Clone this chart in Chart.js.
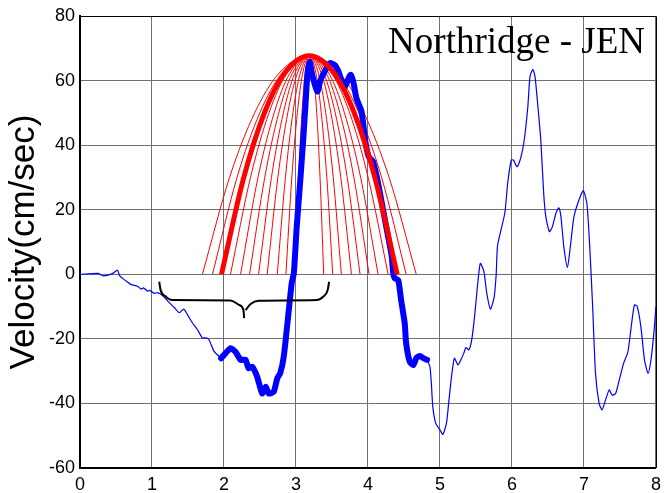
<!DOCTYPE html>
<html>
<head>
<meta charset="utf-8">
<script src="https://cdn.jsdelivr.net/npm/chart.js@4/dist/chart.umd.min.js"></script>
<style>
  html, body { margin: 0; padding: 0; background: #fff; }
  #wrap { width: 667px; height: 493px; }
</style>
</head>
<body>
<div id="wrap"><canvas id="chart"></canvas></div>
<script>
const plotTitle = "Northridge - JEN";
const yAxisTitle = "Velocity(cm/sec)";

const xTicks = [0, 1, 2, 3, 4, 5, 6, 7, 8];
const yTicks = [-60, -40, -20, 0, 20, 40, 60, 80];

// thin blue record before the pulse
const preTime = [0, 0.25, 0.32, 0.45, 0.52, 0.55, 0.64, 0.71, 0.8, 0.85, 0.88, 0.94, 0.97, 1.03, 1.08, 1.15, 1.24, 1.31, 1.38, 1.44, 1.49, 1.56, 1.63, 1.7, 1.75, 1.79, 1.86, 1.93, 1.97];
const preVel = [0, 0.3, -0.5, 0.2, 1.3, -0.4, -2.1, -3.2, -3.7, -4.6, -4.2, -5.2, -5, -5.9, -5.7, -6.7, -8.8, -10.3, -11.9, -10.8, -12.4, -15, -17.1, -19.7, -19.7, -20.2, -23.8, -25.4, -26];

// thick blue: the pulse window
const pulseTime = [1.96, 2.02, 2.09, 2.16, 2.23, 2.30, 2.34, 2.39, 2.46, 2.53, 2.58, 2.62, 2.69, 2.74, 2.78, 2.83, 2.9, 2.94, 2.97, 3.01, 3.06, 3.1, 3.13, 3.16, 3.19, 3.22, 3.27, 3.30, 3.34, 3.41, 3.47, 3.54, 3.59, 3.63, 3.68, 3.73, 3.76, 3.80, 3.84, 3.91, 3.96, 4.01, 4.07, 4.14, 4.21, 4.28, 4.33, 4.35, 4.37, 4.42, 4.46, 4.51, 4.53, 4.58, 4.63, 4.67, 4.72, 4.77, 4.82];
const pulseVel = [-26, -24.5, -22.9, -24, -26.5, -26.5, -29.1, -28.6, -31.7, -36.9, -34.8, -36.9, -36.4, -32.2, -30.7, -25.5, -11.1, -2.8, 0.3, 14.7, 29.2, 41.6, 51.9, 62.3, 65.9, 62.3, 58.1, 56.6, 60.2, 63.3, 65.4, 64.8, 62.8, 60.2, 58.1, 60.7, 61.8, 59.2, 54.5, 50.4, 41.6, 36.4, 34.9, 28.2, 19.9, 11.6, 5.5, 0.3, -1.2, -1.8, -8, -15.2, -21.4, -27.1, -28.1, -26, -25.3, -26, -26.5];

// thin blue record after the pulse
const postTime = [4.82, 4.86, 4.88, 4.9, 4.94, 5.0, 5.04, 5.09, 5.12, 5.16, 5.2, 5.25, 5.29, 5.33, 5.36, 5.40, 5.44, 5.48, 5.52, 5.56, 5.61, 5.65, 5.70, 5.75, 5.78, 5.80, 5.9, 5.94, 5.99, 6.02, 6.07, 6.12, 6.17, 6.22, 6.25, 6.29, 6.32, 6.36, 6.40, 6.44, 6.47, 6.52, 6.56, 6.61, 6.65, 6.68, 6.72, 6.77, 6.81, 6.86, 6.93, 6.99, 7.04, 7.08, 7.12, 7.16, 7.21, 7.25, 7.30, 7.35, 7.39, 7.44, 7.49, 7.55, 7.61, 7.65, 7.70, 7.74, 7.79, 7.84, 7.89, 7.93, 7.97, 8.0];
const postVel = [-26.5, -28.6, -33.8, -41, -46.1, -48.2, -49.6, -46.1, -40, -31.7, -26, -28.1, -26.5, -24.5, -22.7, -23.4, -20.4, -13.1, -3.8, 3.4, 0.8, -5.9, -10.8, -7.4, -0.2, 9, 18.9, 28.2, 35.4, 35.4, 33.3, 35.9, 41.6, 51.9, 61.2, 63.5, 61.2, 51.9, 41.6, 25.1, 17.8, 13.2, 14.7, 18.9, 20.6, 17.8, 8.5, 2.1, 8.5, 17.8, 23, 25.9, 22, 8.5, -10, -30.7, -40, -42, -38.9, -35.8, -37.4, -36.9, -32.7, -27.6, -24, -17.3, -9.5, -10, -16.2, -26.5, -30.7, -26.5, -18.3, -10];

// red trial pulses: velocity levels shared by every curve, x read per curve
const redLevels = [0, 30, 50, 62, 67.7, 62, 50, 30, 0];
const redThinX = [
  [1.70, 2.077, 2.426, 2.754, 3.185, 3.616, 3.944, 4.293, 4.67],
  [1.84, 2.181, 2.497, 2.795, 3.185, 3.575, 3.873, 4.189, 4.53],
  [2.09, 2.368, 2.625, 2.867, 3.185, 3.503, 3.745, 4.002, 4.28],
  [2.23, 2.472, 2.697, 2.908, 3.185, 3.462, 3.673, 3.898, 4.14],
  [2.355, 2.566, 2.761, 2.944, 3.185, 3.426, 3.609, 3.804, 4.015],
  [2.48, 2.659, 2.825, 2.98, 3.185, 3.39, 3.545, 3.711, 3.89],
  [2.60, 2.748, 2.886, 3.015, 3.185, 3.355, 3.484, 3.622, 3.77],
  [2.74, 2.853, 2.957, 3.056, 3.185, 3.314, 3.413, 3.517, 3.63],
  [2.86, 2.942, 3.019, 3.091, 3.185, 3.279, 3.351, 3.428, 3.51],
  [2.985, 3.036, 3.083, 3.127, 3.185, 3.243, 3.288, 3.334, 3.385]
];
const redBestX = [1.965, 2.275, 2.561, 2.831, 3.185, 3.539, 3.809, 4.095, 4.405];

// curly brace under the pre-pulse part
const braceLeftX = [1.10, 1.12, 1.19, 1.28, 2.09, 2.21, 2.27, 2.28];
const braceLeftY = [-2.3, -4.9, -6.9, -8, -8.1, -9.5, -11.1, -13.6];
const braceRightX = [2.30, 2.37, 2.48, 3.29, 3.38, 3.44, 3.46];
const braceRightY = [-11.1, -9.2, -8.2, -8, -6.9, -4.9, -2.3];

const pts = (xs, ys) => xs.map((x, i) => ({ x: x, y: ys[i] }));

const datasets = [];
redThinX.forEach((xs) => {
  datasets.push({
    data: pts(xs, redLevels),
    borderColor: "#ff0000",
    borderWidth: 1,
    cubicInterpolationMode: "monotone",
    order: 5,
  });
});
datasets.push({ data: pts(preTime, preVel), borderColor: "#0000ff", borderWidth: 1.2, tension: 0.2, order: 4 });
datasets.push({ data: pts(postTime, postVel), borderColor: "#0000ff", borderWidth: 1.2, tension: 0.2, order: 4 });
datasets.push({ data: pts(pulseTime, pulseVel), borderColor: "#0000ff", borderWidth: 6, tension: 0.2, borderJoinStyle: "round", borderCapStyle: "round", order: 3 });
datasets.push({ data: pts(redBestX, redLevels), borderColor: "#ff0000", borderWidth: 5, cubicInterpolationMode: "monotone", borderCapStyle: "butt", order: 2 });
datasets.push({ data: pts(braceLeftX, braceLeftY), borderColor: "#000", borderWidth: 2, cubicInterpolationMode: "monotone", order: 1 });
datasets.push({ data: pts(braceRightX, braceRightY), borderColor: "#000", borderWidth: 2, cubicInterpolationMode: "monotone", order: 1 });

const framePlugin = {
  id: "frame",
  afterDraw(chart) {
    const { ctx, chartArea: a } = chart;
    ctx.save();
    ctx.strokeStyle = "#000";
    ctx.lineWidth = 1;
    ctx.beginPath();
    ctx.moveTo(a.left, a.top + 0.5);
    ctx.lineTo(a.right + 0.5, a.top + 0.5);
    ctx.lineTo(a.right + 0.5, a.bottom);
    ctx.stroke();
    ctx.fillStyle = "#000";
    ctx.font = '37px "Liberation Serif", "Times New Roman", serif';
    ctx.textAlign = "right";
    ctx.textBaseline = "alphabetic";
    ctx.fillText(plotTitle, a.right - 11, 53);
    ctx.restore();
  },
};

const tickFont = { family: '"Liberation Sans", Arial, sans-serif', size: 18 };

new Chart(document.getElementById("chart"), {
  type: "line",
  data: { datasets: datasets },
  options: {
    responsive: true,
    maintainAspectRatio: false,
    animation: false,
    layout: { padding: { top: 16, right: 8, left: 0, bottom: 0 } },
    elements: { point: { radius: 0 }, line: { fill: false } },
    plugins: { legend: { display: false }, tooltip: { enabled: false } },
    scales: {
      x: {
        type: "linear",
        min: xTicks[0],
        max: xTicks[xTicks.length - 1],
        afterBuildTicks: (s) => { s.ticks = xTicks.map((v) => ({ value: v })); },
        afterFit: (s) => { s.height = 25; },
        ticks: { color: "#000", font: tickFont, padding: 6, maxRotation: 0 },
        grid: { color: "#707070", lineWidth: 1, drawTicks: false },
        border: { display: true, color: "#000", width: 2 },
      },
      y: {
        type: "linear",
        min: yTicks[0],
        max: yTicks[yTicks.length - 1],
        afterBuildTicks: (s) => { s.ticks = yTicks.map((v) => ({ value: v })); },
        afterFit: (s) => { s.width = 80; },
        ticks: { color: "#000", font: tickFont, padding: 5 },
        grid: { color: "#707070", lineWidth: 1, drawTicks: false },
        border: { display: true, color: "#000", width: 2 },
        title: {
          display: true,
          text: yAxisTitle,
          color: "#000",
          font: { family: '"Liberation Sans", Arial, sans-serif', size: 35 },
          padding: { top: 3, bottom: 0 },
        },
      },
    },
  },
  plugins: [framePlugin],
});
</script>
</body>
</html>
